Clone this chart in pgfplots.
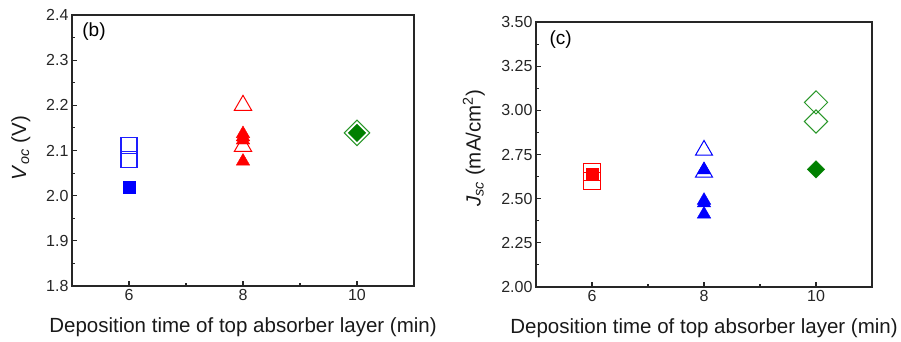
\documentclass[border=0pt]{standalone}
\usepackage{fontspec}
\setmainfont{Liberation Sans}
\usepackage{pgfplots}
\pgfplotsset{compat=1.18}
\definecolor{oblue}{RGB}{0,0,255}
\definecolor{lblue}{RGB}{30,30,255}
\definecolor{ored}{RGB}{255,0,0}
\definecolor{ogreen}{RGB}{0,128,0}
\definecolor{lgreen}{RGB}{40,150,40}
\pgfplotsset{
  myax/.style={
    scale only axis,
    anchor=south west,
    xmin=5, xmax=11, xtick={6,8,10}, minor xtick={7,9},
    tick align=inside, tick pos=left,
    major tick length=5pt, minor tick length=3pt,
    axis line style={line width=1.4pt, black!85},
    every tick/.style={line width=1.1pt, black!85},
    /pgf/number format/assume math mode=true,
    ticklabel style={font=\fontsize{16}{19}\selectfont, text=black!85},
    label style={font=\fontsize{20.5}{24}\selectfont, text=black!90},
    clip=false,
  }
}
\begin{document}
\begin{tikzpicture}
% ---------- left panel (b) ----------
\begin{axis}[myax, at={(72pt,55pt)}, width=342pt, height=271pt,
  ymin=1.8, ymax=2.4,
  ytick={1.8,1.9,2.0,2.1,2.2,2.3,2.4},
  minor ytick={1.85,1.95,2.05,2.15,2.25,2.35},
  yticklabel style={/pgf/number format/fixed, /pgf/number format/precision=1, /pgf/number format/fixed zerofill},
  xlabel={Deposition time of top absorber layer (min)},
  xlabel style={at={(axis description cs:0.5,-0.17)}, anchor=base},
  ylabel={\textit{V}\textsubscript{\textit{oc}} (V)},
  ylabel style={at={(axis description cs:-0.15,0.509)}, anchor=center},
]
\addplot[oblue, only marks, mark=square*, mark size=6pt, mark options={draw=oblue, fill=oblue}] coordinates {(6,2.019)};
\addplot[lblue, only marks, mark=square, mark size=8pt, mark options={draw=lblue, fill=none, line width=1.5pt}] coordinates {(6,2.111) (6,2.080)};
\addplot[ored, only marks, mark=triangle, mark size=10pt, mark options={draw=ored, line width=1pt}] coordinates {(8,2.200) (8,2.109)};
\addplot[ored, only marks, mark=triangle*, mark size=7.8pt, mark options={draw=ored, fill=ored}] coordinates {(8,2.137) (8,2.130) (8,2.123) (8,2.076)};
\addplot[lgreen, only marks, mark=square, mark size=9pt, mark options={draw=lgreen, line width=1pt, rotate=45}] coordinates {(10,2.139)};
\addplot[ogreen, only marks, mark=square*, mark size=6.2pt, mark options={draw=ogreen, fill=ogreen, rotate=45}] coordinates {(10,2.139)};
\node[anchor=west, font=\fontsize{19}{22}\selectfont] at (rel axis cs:0.02,0.937) {(b)};
\end{axis}
% ---------- right panel (c) ----------
\begin{axis}[myax, at={(536pt,54pt)}, width=336pt, height=265pt,
  ymin=2, ymax=3.5,
  ytick={2,2.25,2.5,2.75,3,3.25,3.5},
  minor ytick={2.125,2.375,2.625,2.875,3.125,3.375},
  yticklabel style={/pgf/number format/fixed, /pgf/number format/precision=2, /pgf/number format/fixed zerofill},
  xlabel={Deposition time of top absorber layer (min)},
  xlabel style={at={(axis description cs:0.5,-0.174)}, anchor=base},
  ylabel={\textit{J}\textsubscript{\textit{sc}} (mA/cm\textsuperscript{2})},
  ylabel style={at={(axis description cs:-0.185,0.523)}, anchor=center},
]
\addplot[ored, only marks, mark=square, mark size=8.2pt, mark options={draw=ored, line width=1pt}] coordinates {(6,2.650) (6,2.599)};
\addplot[ored, only marks, mark=square*, mark size=6pt, mark options={draw=ored, fill=ored}] coordinates {(6,2.639)};
\addplot[oblue, only marks, mark=triangle, mark size=9.8pt, mark options={draw=oblue, line width=1pt}] coordinates {(8,2.774) (8,2.650)};
\addplot[oblue, only marks, mark=triangle*, mark size=7.8pt, mark options={draw=oblue, fill=oblue}] coordinates {(8,2.662) (8,2.490) (8,2.475) (8,2.412)};
\addplot[lgreen, only marks, mark=square, mark size=8.2pt, mark options={draw=lgreen, line width=1pt, rotate=45}] coordinates {(10,3.045) (10,2.937)};
\addplot[ogreen, only marks, mark=square*, mark size=6.2pt, mark options={draw=ogreen, fill=ogreen, rotate=45}] coordinates {(10,2.666)};
\node[anchor=west, font=\fontsize{19}{22}\selectfont] at (rel axis cs:0.03,0.935) {(c)};
\end{axis}
\pgfresetboundingbox
\path[use as bounding box] (0pt,0pt) rectangle (901pt,341pt);
\end{tikzpicture}
\end{document}
